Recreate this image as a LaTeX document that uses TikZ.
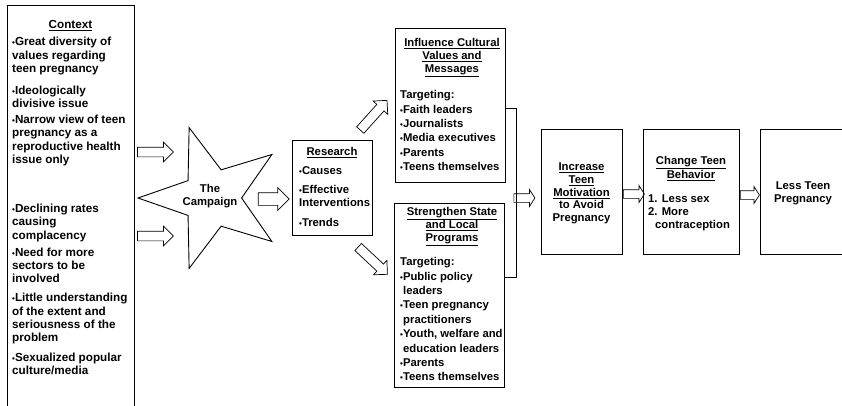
\documentclass[tikz,border=0pt]{standalone}
\usepackage{fontspec}
\setmainfont{Liberation Sans}
\usetikzlibrary{shapes.geometric,shapes.arrows}
\newcommand\bl{{\fontsize{8}{8}\selectfont •}}
\newcommand\fs{\rule{0pt}{9pt}}
\begin{document}
\begin{tikzpicture}[x=1pt,y=-1pt,
  box/.style={draw,line width=0.8pt,inner sep=0pt},
  lbl/.style={inner sep=0pt,font=\fontsize{11.3}{13}\selectfont\bfseries},
  ctr/.style={lbl,align=center,anchor=north},
  lft/.style={lbl,align=left,anchor=north west},
  blist/.style={lft,font=\fontsize{11.3}{14.4}\selectfont\bfseries},
  barrow/.style={draw,line width=0.7pt,single arrow,single arrow head extend=5pt,inner xsep=0pt,inner ysep=4.5pt},
  sarrow/.style={barrow,inner ysep=4pt,single arrow head extend=4pt,single arrow tip angle=115}
]
\useasboundingbox (0,0) rectangle (842,405);
% boxes
\node[box,minimum width=127pt,minimum height=410pt] (ctx) at (70.5,210) {};
\node[box,minimum width=80pt,minimum height=95pt] (res) at (332,187.5) {};
\node[box,minimum width=110pt,minimum height=154pt] (inf) at (450,105) {};
\node[box,minimum width=110pt,minimum height=184pt] (str) at (449,295) {};
\node[box,minimum width=81pt,minimum height=125pt] (inc) at (581.5,191.5) {};
\node[box,minimum width=96pt,minimum height=125pt] (chg) at (691,191.5) {};
\node[box,minimum width=86pt,minimum height=125pt] (less) at (803,191.5) {};
\node[star,star points=5,star point ratio=2.5,minimum size=148pt,shape border rotate=90,draw,line width=0.9pt,inner sep=0pt] (star) at (212,198) {};
% texts
\node[ctr,font=\fontsize{11.7}{13.3}\selectfont\bfseries] (ctxT) at (70.5,19.5) {\fs\underline{Context}};
\node[lbl,align=left,anchor=north west,font=\fontsize{11.7}{13.3}\selectfont\bfseries] (ctxB) at (12,36.5) {\fs\bl Great diversity of\\values regarding\\teen pregnancy\\[8.7pt]
\bl Ideologically\\divisive issue\\[2.7pt]
\bl Narrow view of teen\\pregnancy as a\\reproductive health\\issue only\\[35.7pt]
\bl Declining rates\\causing\\complacency\\[3.7pt]
\bl Need for more\\sectors to be\\involved\\[5.7pt]
\bl Little understanding\\of the extent and\\seriousness of the\\problem\\[6.7pt]
\bl Sexualized popular\\culture/media};
\node[ctr] (campT) at (210,183.5) {\fs The\\Campaign};
\node[ctr] (resT) at (332,146.5) {\fs\underline{Research}};
\node[lft] (resB) at (299,165.5) {\fs\bl Causes\\[5.7pt]\bl Effective\\Interventions\\[6.7pt]\bl Trends};
\node[ctr] (infT) at (452,37.5) {\fs\underline{Influence Cultural}\\\underline{Values and}\\\underline{Messages}};
\node[blist] (infB) at (400,89.5) {\fs Targeting:\\\bl Faith leaders\\\bl Journalists\\\bl Media executives\\\bl Parents\\\bl Teens themselves};
\node[ctr] (strT) at (452,206.5) {\fs\underline{Strengthen State}\\\underline{and Local}\\\underline{Programs}};
\node[blist] (strB) at (400,256.5) {\fs Targeting:\\\bl Public policy\\\hspace*{3pt}leaders\\\bl Teen pregnancy\\\hspace*{3pt}practitioners\\\bl Youth, welfare and\\\hspace*{3pt}education leaders\\\bl Parents\\\bl Teens themselves};
\node[ctr,font=\fontsize{11.3}{12.75}\selectfont\bfseries] (incT) at (581.5,161.5) {\fs\underline{Increase}\\\underline{Teen}\\\underline{Motivation}\\to Avoid\\Pregnancy};
\node[ctr,font=\fontsize{11.3}{12}\selectfont\bfseries] (chgT) at (691,155.5) {\fs\underline{Change Teen}\\\underline{Behavior}};
\node[lft] (chgB) at (648,193.5) {\fs 1. Less sex\\2. More\\\hspace*{7pt}contraception};
\node[ctr] (lessT) at (803,180.5) {\fs Less Teen\\Pregnancy};
% block arrows
\node[barrow,minimum height=36pt] (a1) at (153,152) {};
\node[barrow,minimum height=36pt] (a2) at (153,236) {};
\node[barrow,minimum height=31pt,inner ysep=6pt] (a3) at (270.5,199) {};
\node[barrow,minimum height=40pt,rotate=48] (a4) at (372,117) {};
\node[barrow,minimum height=40pt,rotate=-43] (a5) at (371,259) {};
% bracket
\coordinate (bt) at (516,108);
\coordinate (bb) at (516,277);
\draw[line width=0.8pt] (bt -| inf.east) -- (bt) -- (bb) -- (bb -| str.east);
\node[sarrow,minimum height=21pt] (a6) at (523,198) {};
\node[sarrow,minimum height=21pt] (a7) at (632.5,194) {};
\node[sarrow,minimum height=19pt] (a8) at (748.5,195) {};
\end{tikzpicture}
\end{document}
